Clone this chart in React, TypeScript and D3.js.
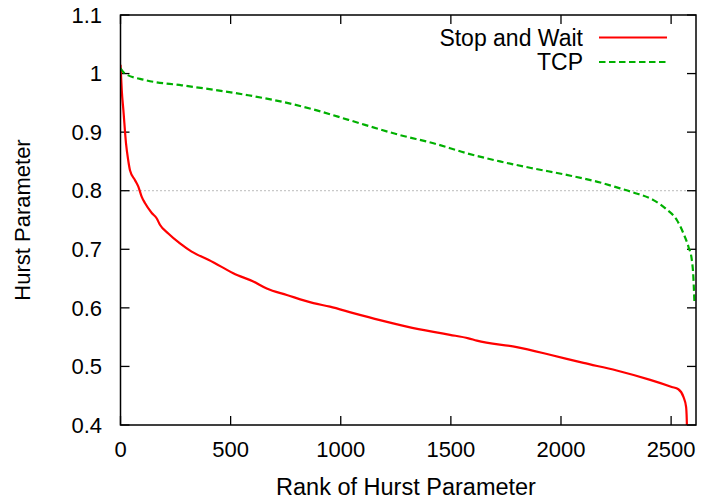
import React from "react";
import * as d3 from "d3";

const xTicks = [0, 500, 1000, 1500, 2000, 2500];
const yTicks = [0.4, 0.5, 0.6, 0.7, 0.8, 0.9, 1, 1.1];
const yTickLabels = ["0.4", "0.5", "0.6", "0.7", "0.8", "0.9", "1", "1.1"];

const seriesNames = ["Stop and Wait", "TCP"];

const redRank = [0, 2, 6, 13, 25, 35, 43, 66, 81, 96, 111, 142, 164, 179, 217, 270, 323, 399, 459, 512, 603, 664, 755, 876, 951, 1057, 1178, 1300, 1421, 1496, 1580, 1618, 1799, 1950, 2102, 2253, 2405, 2503, 2533, 2556, 2568, 2571, 2572];
const redVal = [1.015, 1.0, 0.97, 0.938, 0.881, 0.852, 0.835, 0.818, 0.807, 0.79, 0.779, 0.762, 0.753, 0.742, 0.727, 0.71, 0.696, 0.682, 0.67, 0.659, 0.645, 0.633, 0.622, 0.608, 0.602, 0.591, 0.579, 0.568, 0.559, 0.554, 0.548, 0.544, 0.533, 0.52, 0.506, 0.493, 0.477, 0.465, 0.461, 0.448, 0.431, 0.41, 0.395];

const greenRank = [0, 20, 111, 278, 429, 580, 732, 883, 1035, 1269, 1421, 1572, 1723, 1875, 2026, 2178, 2268, 2329, 2420, 2480, 2526, 2556, 2579, 2594, 2601, 2606];
const greenVal = [1.009, 1.0, 0.989, 0.98, 0.972, 0.963, 0.952, 0.938, 0.921, 0.895, 0.881, 0.864, 0.85, 0.838, 0.827, 0.814, 0.804, 0.797, 0.784, 0.768, 0.75, 0.727, 0.704, 0.682, 0.653, 0.608];

const refLine = 0.8;

const W = 705, H = 504;
const L = 120.5, R = 696, T = 15, B = 425;
const FONT = "'Liberation Sans', Arial, Helvetica, sans-serif";
const FS = 22;

export default function App() {
  const x = d3.scaleLinear().domain([0, 2613]).range([L, R]);
  const y = d3.scaleLinear().domain([0.4, 1.1]).range([B, T]);
  const line = d3
    .line<[number, number]>()
    .x((d) => x(d[0]))
    .y((d) => y(d[1]))
    .curve(d3.curveMonotoneX);
  const red: [number, number][] = redRank.map((r, i) => [r, redVal[i]]);
  const green: [number, number][] = greenRank.map((r, i) => [r, greenVal[i]]);
  const tl = 9;
  return (
    <svg width={W} height={H} style={{ position: "absolute", left: 0, top: 0, background: "#fff" }} fontFamily={FONT}>
      <defs>
        <clipPath id="plot">
          <rect x={L} y={T} width={R - L} height={B - T} />
        </clipPath>
      </defs>
      <rect x={0} y={0} width={W} height={H} fill="#fff" />
      <line x1={L} x2={R} y1={y(refLine)} y2={y(refLine)} stroke="#777" strokeWidth={1} strokeDasharray="1,3" />
      {yTicks.map((t, i) => (
        <g key={"y" + i}>
          <line x1={L} x2={L + tl} y1={y(t)} y2={y(t)} stroke="#000" strokeWidth={1.3} />
          <line x1={R} x2={R - tl} y1={y(t)} y2={y(t)} stroke="#000" strokeWidth={1.3} />
          <text x={102} y={y(t)} dy="0.35em" textAnchor="end" fontSize={FS}>
            {yTickLabels[i]}
          </text>
        </g>
      ))}
      {xTicks.map((t, i) => (
        <g key={"x" + i}>
          <line x1={x(t)} x2={x(t)} y1={B} y2={B - tl} stroke="#000" strokeWidth={1.3} />
          <line x1={x(t)} x2={x(t)} y1={T} y2={T + tl} stroke="#000" strokeWidth={1.3} />
          <text x={x(t)} y={B + 32} textAnchor="middle" fontSize={FS}>
            {t}
          </text>
        </g>
      ))}
      <g clipPath="url(#plot)">
        <path d={line(red) || ""} fill="none" stroke="#ff0000" strokeWidth={2.2} strokeLinejoin="round" />
        <path d={line(green) || ""} fill="none" stroke="#00b000" strokeWidth={2.2} strokeDasharray="6.5,3.5" />
      </g>
      <rect x={L} y={T} width={R - L} height={B - T} fill="none" stroke="#000" strokeWidth={1.5} />
      <text x={583} y={37.5} dy="0.35em" textAnchor="end" fontSize={23}>{seriesNames[0]}</text>
      <line x1={599} x2={667} y1={37.5} y2={37.5} stroke="#ff0000" strokeWidth={2.2} />
      <text x={583} y={62} dy="0.35em" textAnchor="end" fontSize={23}>{seriesNames[1]}</text>
      <line x1={599} x2={667} y1={62} y2={62} stroke="#00b000" strokeWidth={2.2} strokeDasharray="6.5,3.5" />
      <text x={406} y={495} textAnchor="middle" fontSize={23.5}>Rank of Hurst Parameter</text>
      <text transform={`translate(30,${(T + B) / 2}) rotate(-90)`} textAnchor="middle" fontSize={22}>Hurst Parameter</text>
    </svg>
  );
}
